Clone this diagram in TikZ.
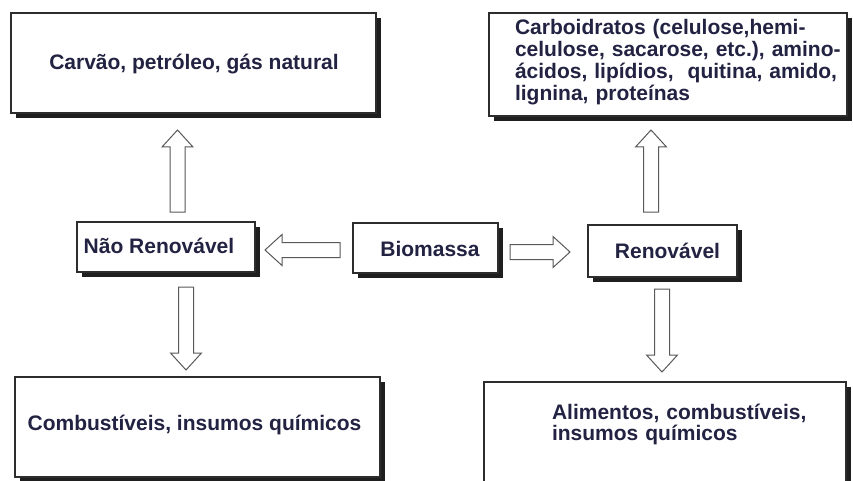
\documentclass[tikz,border=0pt]{standalone}
\usepackage{fontspec}
\setmainfont{Liberation Sans}
\usetikzlibrary{calc,shadows}
\definecolor{txtc}{RGB}{34,34,66}
\definecolor{edgec}{RGB}{45,45,45}
\newcommand{\blockarrow}[3]{%
  \coordinate (#3h) at ($(#2)!17pt!(#1)$);
  \draw[blockarr] ($(#1)!7.5pt!90:(#2)$) -- ($(#3h)!7.5pt!90:(#2)$) -- ($(#3h)!15.5pt!90:(#2)$) -- (#2)
    -- ($(#3h)!15.5pt!-90:(#2)$) -- ($(#3h)!7.5pt!-90:(#2)$) -- ($(#1)!7.5pt!-90:(#2)$) -- cycle;
}
\begin{document}
\begin{tikzpicture}[x=1pt,y=-1pt,
  box/.style={draw=edgec, line width=1.2pt, fill=white, inner sep=0pt, outer sep=0pt,
    drop shadow={shadow xshift=5pt, shadow yshift=-5pt, fill=black!88, opacity=1}},
  txt/.style={inner sep=0pt, outer sep=0pt, text=txtc, font=\bfseries\fontsize{21}{21.7}\selectfont},
  blockarr/.style={draw=black!65, line width=1pt, fill=white, line join=miter}]
\clip (0,0) rectangle (853,481);
\fill[white] (0,0) rectangle (853,481);
% boxes
\node[box, minimum width=365pt, minimum height=100pt] (tl) at (193.5,63) {};
\node[box, minimum width=358pt, minimum height=103pt] (tr) at (668,64.5) {};
\node[box, minimum width=178pt, minimum height=50pt] (nr) at (166,247) {};
\node[box, minimum width=145pt, minimum height=50pt] (bio) at (425.5,248) {};
\node[box, minimum width=149pt, minimum height=52pt] (ren) at (662.5,251) {};
\node[box, minimum width=365pt, minimum height=100pt] (bl) at (197.5,427) {};
\node[box, minimum width=362pt, minimum height=113pt] (br) at (665,438.5) {};
% texts
\node[txt, anchor=base] (tlt) at (194,70) {Carvão, petróleo, gás natural};
\node[txt, anchor=base west, text width=335pt, align=left] (trt) at (515,35)
  {Carboidratos (celulose,hemi-\\celulose, sacarose, etc.), amino-\\ácidos, lipídios,\ \ quitina, amido,\\lignina, proteínas};
\node[txt, anchor=base] (nrt) at (159,253) {Não Renovável};
\node[txt, anchor=base] (biot) at (430,256) {Biomassa};
\node[txt, anchor=base] (rent) at (667.5,258) {Renovável};
\node[txt, anchor=base] (blt) at (194.5,430) {Combustíveis, insumos químicos};
\node[txt, anchor=base west, text width=300pt, align=left] (brt) at (552,419)
  {Alimentos, combustíveis,\\insumos químicos};
% arrow ends
\coordinate (a1s) at (177.5,212); \coordinate (a1e) at (177.5,130);
\coordinate (a2s) at (651,212);   \coordinate (a2e) at (651,130);
\coordinate (a3s) at (340,250);   \coordinate (a3e) at (265,250);
\coordinate (a4s) at (510,252);   \coordinate (a4e) at (570,252);
\coordinate (a5s) at (186,287);   \coordinate (a5e) at (186,370);
\coordinate (a6s) at (662,289);   \coordinate (a6e) at (662,372);
\blockarrow{a1s}{a1e}{a1}
\blockarrow{a2s}{a2e}{a2}
\blockarrow{a3s}{a3e}{a3}
\blockarrow{a4s}{a4e}{a4}
\blockarrow{a5s}{a5e}{a5}
\blockarrow{a6s}{a6e}{a6}
\end{tikzpicture}
\end{document}
